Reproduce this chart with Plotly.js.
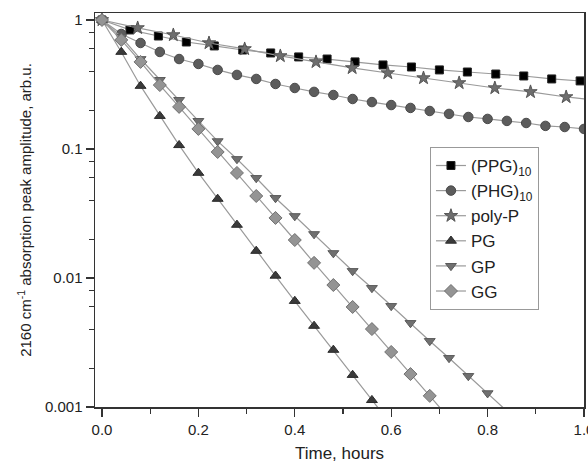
<!DOCTYPE html>
<html>
<head>
<meta charset="utf-8">
<script src="https://cdn.plot.ly/plotly-3.0.1.min.js"></script>
<style>html,body{margin:0;padding:0;background:#fff;}#chart{width:588px;height:465px;}</style>
</head>
<body>
<div id="chart"></div>
<script>
// ---- data ----
const seriesNames = ["(PPG)<sub>10</sub>", "(PHG)<sub>10</sub>", "poly-P", "PG", "GP", "GG"];

const tPPG = [0, 0.058, 0.117, 0.175, 0.233, 0.292, 0.350, 0.408, 0.467, 0.525, 0.583, 0.642, 0.700, 0.758, 0.817, 0.875, 0.933, 0.992, 1.050];
const yPPG = [1, 0.837, 0.751, 0.675, 0.629, 0.585, 0.555, 0.517, 0.498, 0.473, 0.448, 0.432, 0.410, 0.395, 0.381, 0.368, 0.349, 0.337, 0.325];

const tPHG = [0, 0.04, 0.08, 0.12, 0.16, 0.20, 0.24, 0.28, 0.32, 0.36, 0.40, 0.44, 0.48, 0.52, 0.56, 0.60, 0.64, 0.68, 0.72, 0.76, 0.80, 0.84, 0.88, 0.92, 0.96, 1.00];
const yPHG = [1, 0.779, 0.663, 0.565, 0.498, 0.456, 0.410, 0.375, 0.349, 0.319, 0.297, 0.277, 0.262, 0.244, 0.231, 0.219, 0.208, 0.197, 0.187, 0.177, 0.171, 0.165, 0.159, 0.151, 0.148, 0.143];

const tPolyP = [0, 0.074, 0.148, 0.222, 0.296, 0.370, 0.444, 0.519, 0.593, 0.667, 0.741, 0.815, 0.889, 0.963, 1.037];
const yPolyP = [1, 0.867, 0.765, 0.663, 0.596, 0.526, 0.473, 0.425, 0.388, 0.355, 0.325, 0.297, 0.277, 0.253, 0.236];

const tPG = [0, 0.04, 0.08, 0.12, 0.16, 0.20, 0.24, 0.28, 0.32, 0.36, 0.40, 0.44, 0.48, 0.52, 0.56, 0.60];
const yPG = [1, 0.565, 0.308, 0.180, 0.107, 0.0652, 0.0410, 0.0258, 0.0162, 0.0104, 0.00663, 0.00425, 0.00277, 0.00177, 0.00113, 0.00073];

const tGP = [0, 0.04, 0.08, 0.12, 0.16, 0.20, 0.24, 0.28, 0.32, 0.36, 0.40, 0.44, 0.48, 0.52, 0.56, 0.60, 0.64, 0.68, 0.72, 0.76, 0.80, 0.84];
const yGP = [1, 0.738, 0.498, 0.343, 0.240, 0.165, 0.115, 0.0836, 0.0596, 0.0417, 0.0302, 0.0219, 0.0156, 0.01133, 0.00837, 0.00607, 0.00448, 0.00325, 0.00240, 0.00174, 0.00128, 0.00093];

const tGG = [0, 0.04, 0.08, 0.12, 0.16, 0.20, 0.24, 0.28, 0.32, 0.36, 0.40, 0.44, 0.48, 0.52, 0.56, 0.60, 0.64, 0.68, 0.72];
const yGG = [1, 0.700, 0.473, 0.313, 0.212, 0.143, 0.0948, 0.0652, 0.0432, 0.0292, 0.0197, 0.0131, 0.00882, 0.00596, 0.00402, 0.00267, 0.00180, 0.00122, 0.00082];

const xTickVals = [0, 0.2, 0.4, 0.6, 0.8, 1.0];
const xTickText = ["0.0", "0.2", "0.4", "0.6", "0.8", "1.0"];
const yTickVals = [1, 0.1, 0.01, 0.001];
const yTickText = ["1", "0.1", "0.01", "0.001"];
const yMinorVals = [0.8, 0.6, 0.4, 0.2, 0.08, 0.06, 0.04, 0.02, 0.008, 0.006, 0.004, 0.002];

// ---- styles ----
const lineColor = "#9a9a9a";
const font = "Liberation Sans, Arial, sans-serif";
function mk(x, y, name, symbol, color, size, outline) {
  return {
    x: x, y: y, name: name, type: "scatter", mode: "lines+markers",
    line: {color: lineColor, width: 1.2},
    marker: {symbol: symbol, color: color, size: size, line: {color: outline, width: 1}},
    cliponaxis: true
  };
}
const data = [
  mk(tPPG, yPPG, seriesNames[0], "square", "#000000", 8, "#222"),
  mk(tPHG, yPHG, seriesNames[1], "circle", "#5c5c5c", 9.5, "#4a4a4a"),
  mk(tPolyP, yPolyP, seriesNames[2], "star", "#6e6e6e", 10, "#555"),
  mk(tPG, yPG, seriesNames[3], "triangle-up", "#3a3a3a", 9.5, "#2a2a2a"),
  mk(tGP, yGP, seriesNames[4], "triangle-down", "#707070", 9.5, "#5a5a5a"),
  mk(tGG, yGG, seriesNames[5], "diamond", "#949494", 10, "#707070")
];

const layout = {
  width: 588, height: 465,
  margin: {l: 95, r: 4, t: 13, b: 58, pad: 0},
  paper_bgcolor: "#fff", plot_bgcolor: "#fff",
  font: {family: font, color: "#222", size: 15},
  showlegend: true,
  legend: {
    x: 0.685, y: 0.66, xanchor: "left", yanchor: "top",
    bordercolor: "#999", borderwidth: 1, bgcolor: "#fff",
    font: {family: font, size: 17, color: "#222"},
    tracegroupgap: 0
  },
  xaxis: {
    range: [-0.0145, 1.0],
    tickmode: "array", tickvals: xTickVals, ticktext: xTickText,
    ticklabeloverflow: "allow",
    ticks: "outside", ticklen: 8, tickwidth: 1.2, tickcolor: "#333",
    minor: {ticks: "outside", tick0: 0, dtick: 0.1, ticklen: 5, tickwidth: 1.2, tickcolor: "#333"},
    showline: true, linecolor: "#333", linewidth: 1.5, mirror: true,
    showgrid: false, zeroline: false,
    tickfont: {size: 15, color: "#222"},
    title: {text: "Time, hours", font: {size: 17, color: "#222"}, standoff: 10}
  },
  yaxis: {
    type: "log",
    range: [-3, 0.054],
    tickmode: "array", tickvals: yTickVals, ticktext: yTickText,
    ticks: "outside", ticklen: 8, tickwidth: 1.2, tickcolor: "#333",
    minor: {ticks: "outside", tickmode: "array", tickvals: yMinorVals, ticklen: 5, tickwidth: 1.2, tickcolor: "#333"},
    showline: true, linecolor: "#333", linewidth: 1.5, mirror: true,
    showgrid: false, zeroline: false,
    tickfont: {size: 15, color: "#222"},
    title: {text: "2160 cm<sup>-1</sup> absorption peak amplitude, arb.u.", font: {size: 15, color: "#222"}, standoff: 9}
  }
};

Plotly.newPlot("chart", data, layout, {displayModeBar: false, staticPlot: true});
</script>
</body>
</html>
